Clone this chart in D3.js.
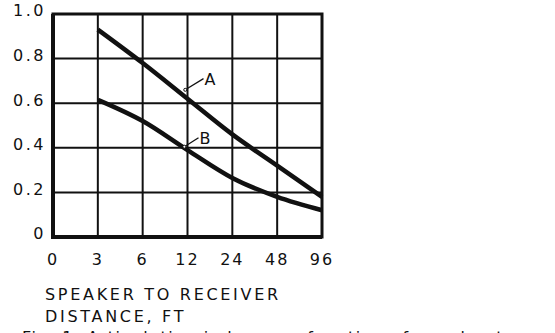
<!DOCTYPE html>
<html lang="en">
<head>
<meta charset="UTF-8">
<title>Articulation index vs distance</title>
<style>
    body { margin: 0; background: #fff; }
    svg text { font-family: "DejaVu Sans", sans-serif; fill: #111; }
</style>
</head>
<body>
<div id="chart"></div>
<script src="https://d3js.org/d3.v7.min.js"></script>
<script>
// --- data ---
const distances = ["0", "3", "6", "12", "24", "48", "96"];
const yTicks = [0, 0.2, 0.4, 0.6, 0.8, 1.0];
const curveADist = ["3", "6", "12", "24", "48", "96"];
const curveAVals = [0.93, 0.78, 0.62, 0.46, 0.32, 0.18];
const curveBDist = ["3", "6", "12", "24", "48", "96"];
const curveBVals = [0.615, 0.52, 0.39, 0.265, 0.18, 0.12];

const W = 555, H = 333;
const margin = {top: 14, right: 233, bottom: 96, left: 53};
const width = W - margin.left - margin.right;
const height = H - margin.top - margin.bottom;

const svg = d3.select("#chart").append("svg")
    .attr("width", W).attr("height", H);
const g = svg.append("g").attr("transform", `translate(${margin.left},${margin.top})`);

const x = d3.scalePoint().domain(distances).range([0, width]);
const y = d3.scaleLinear().domain([0, 1]).range([height, 0]);

// grid
g.append("g")
    .selectAll("line").data(distances.slice(1, -1)).join("line")
    .attr("x1", d => x(d)).attr("x2", d => x(d))
    .attr("y1", 0).attr("y2", height)
    .attr("stroke", "#111").attr("stroke-width", 2);
g.append("g")
    .selectAll("line").data(yTicks.slice(1, -1)).join("line")
    .attr("x1", 0).attr("x2", width)
    .attr("y1", d => y(d)).attr("y2", d => y(d))
    .attr("stroke", "#111").attr("stroke-width", 2);

// frame
g.append("rect")
    .attr("x", 0).attr("y", 0).attr("width", width).attr("height", height)
    .attr("fill", "none").attr("stroke", "#111").attr("stroke-width", 3);
g.append("path")
    .attr("d", `M0,0V${height}H${width}`)
    .attr("fill", "none").attr("stroke", "#111").attr("stroke-width", 4);

// axes labels
g.append("g").selectAll("text").data(yTicks).join("text")
    .attr("x", -7).attr("y", d => y(d)).attr("dy", "0.15em")
    .attr("text-anchor", "end")
    .style("font-size", "16px").style("letter-spacing", "2.5px")
    .text(d => d === 0 ? "0" : d.toFixed(1));

g.append("g").selectAll("text").data(distances).join("text")
    .attr("x", d => x(d)).attr("y", height + 28)
    .attr("text-anchor", "middle")
    .style("font-size", "16px").style("letter-spacing", "2px")
    .text(d => d);

svg.append("text").attr("x", 45).attr("y", 300)
    .style("font-size", "16px").style("letter-spacing", "2.7px")
    .text("SPEAKER TO RECEIVER");
svg.append("text").attr("x", 45).attr("y", 322)
    .style("font-size", "16px").style("letter-spacing", "2.7px")
    .text("DISTANCE, FT");

// curves
const line = d3.line()
    .x(d => x(d[0])).y(d => y(d[1]))
    .curve(d3.curveMonotoneX);
g.append("path")
    .datum(d3.zip(curveADist, curveAVals))
    .attr("d", line)
    .attr("fill", "none").attr("stroke", "#111").attr("stroke-width", 4.5);
g.append("path")
    .datum(d3.zip(curveBDist, curveBVals))
    .attr("d", line)
    .attr("fill", "none").attr("stroke", "#111").attr("stroke-width", 4.5);

// labels with leader lines
const step = x.step();
const labels = [
    {name: "A", px: x("6") + step * 0.95, py: y(0.66), lx: x("12") + 16, ly: y(0.71)},
    {name: "B", px: x("6") + step * 0.93, py: y(0.405), lx: x("12") + 11, ly: y(0.445)}
];
labels.forEach(l => {
    g.append("line")
        .attr("x1", l.px).attr("y1", l.py).attr("x2", l.lx).attr("y2", l.ly)
        .attr("stroke", "#111").attr("stroke-width", 1.3);
    g.append("circle").attr("cx", l.px).attr("cy", l.py).attr("r", 1.5)
        .attr("fill", "#fff").attr("stroke", "#111").attr("stroke-width", 1);
    g.append("text").attr("x", l.lx + 1).attr("y", l.ly + 6)
        .style("font-size", "16px")
        .text(l.name);
});

// caption line cut off at the bottom edge, as in the reference
svg.append("text").attr("x", 22).attr("y", 343)
    .style("font-size", "16px").style("letter-spacing", "1.5px")
    .text("Fig. 1. Articulation index as a function of speaker-to-receiver distance (for");
</script>
</body>
</html>
